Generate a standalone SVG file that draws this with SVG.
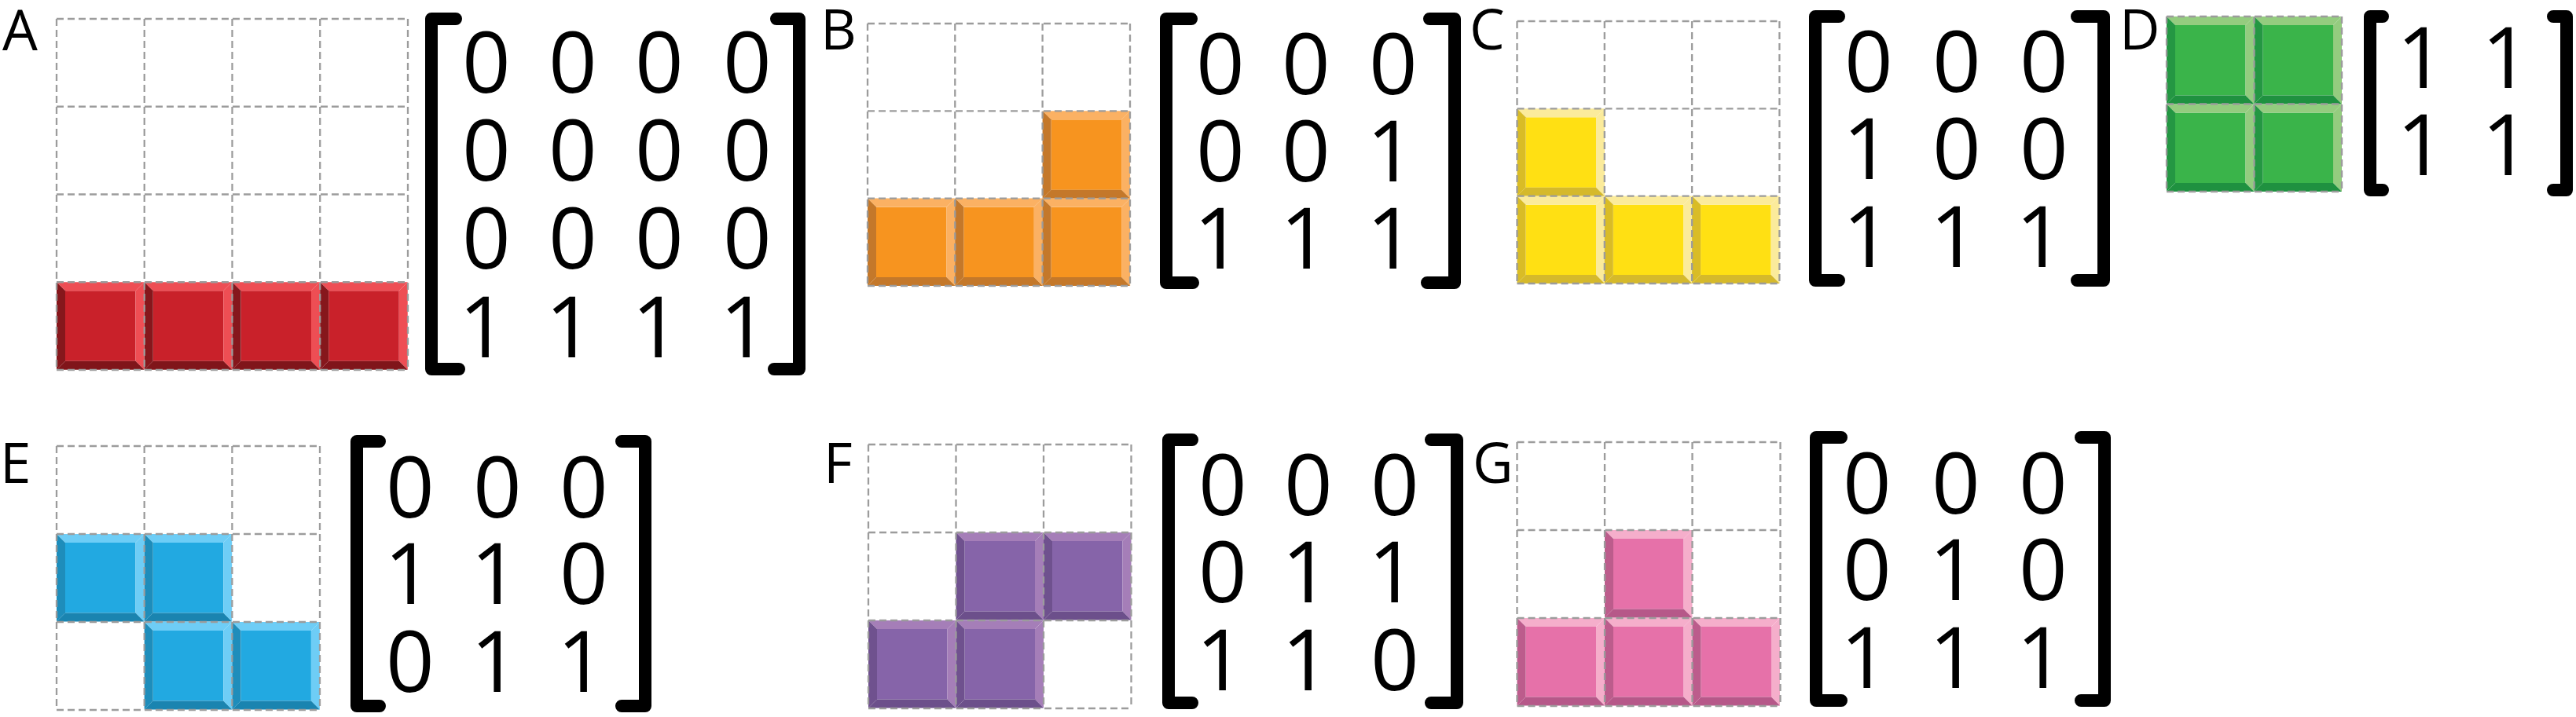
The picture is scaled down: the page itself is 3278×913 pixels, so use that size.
<svg xmlns="http://www.w3.org/2000/svg" xmlns:xlink="http://www.w3.org/1999/xlink" width="3278" height="913" viewBox="0 0 3278 913">
<style>
.lbl{font-family:"Open Sans","Noto Sans","Liberation Sans",sans-serif;font-size:71px;fill:#000}
.dg{font-family:"Open Sans","Noto Sans","Liberation Sans",sans-serif;font-size:108px;fill:#000;text-anchor:middle}
.br{fill:none;stroke:#000;stroke-width:16;stroke-linecap:round;stroke-linejoin:round}
.grid{fill:none;stroke:#9c9c9c;stroke-width:2.3;stroke-dasharray:9 5}
</style>
<defs>
<g id="tRed"><rect x="11" y="11" width="89.5" height="89.5" fill="#C9212A"/><polygon points="0,0 111.5,0 100.5,11 11,11" fill="#EE4E54"/><polygon points="111.5,0 111.5,111.5 100.5,100.5 100.5,11" fill="#EE4E54"/><polygon points="0,111.5 111.5,111.5 100.5,100.5 11,100.5" fill="#80151A"/><polygon points="0,0 11,11 11,100.5 0,111.5" fill="#86171C"/></g>
<g id="tOrange"><rect x="11" y="11" width="89.5" height="89.5" fill="#F7941F"/><polygon points="0,0 111.5,0 100.5,11 11,11" fill="#FBB163"/><polygon points="111.5,0 111.5,111.5 100.5,100.5 100.5,11" fill="#FBB163"/><polygon points="0,111.5 111.5,111.5 100.5,100.5 11,100.5" fill="#C4782A"/><polygon points="0,0 11,11 11,100.5 0,111.5" fill="#C4782A"/></g>
<g id="tYellow"><rect x="11" y="11" width="89.5" height="89.5" fill="#FFE013"/><polygon points="0,0 111.5,0 100.5,11 11,11" fill="#FBEB9B"/><polygon points="111.5,0 111.5,111.5 100.5,100.5 100.5,11" fill="#FBEB9B"/><polygon points="0,111.5 111.5,111.5 100.5,100.5 11,100.5" fill="#D5B92B"/><polygon points="0,0 11,11 11,100.5 0,111.5" fill="#D9BC26"/></g>
<g id="tGreen"><rect x="11" y="11" width="89.5" height="89.5" fill="#3AB44A"/><polygon points="0,0 111.5,0 100.5,11 11,11" fill="#94CC7F"/><polygon points="111.5,0 111.5,111.5 100.5,100.5 100.5,11" fill="#94CC7F"/><polygon points="0,111.5 111.5,111.5 100.5,100.5 11,100.5" fill="#1F9140"/><polygon points="0,0 11,11 11,100.5 0,111.5" fill="#249743"/></g>
<g id="tBlue"><rect x="11" y="11" width="89.5" height="89.5" fill="#22A9E1"/><polygon points="0,0 111.5,0 100.5,11 11,11" fill="#6ECDF6"/><polygon points="111.5,0 111.5,111.5 100.5,100.5 100.5,11" fill="#6ECDF6"/><polygon points="0,111.5 111.5,111.5 100.5,100.5 11,100.5" fill="#1A84B0"/><polygon points="0,0 11,11 11,100.5 0,111.5" fill="#1E8DBB"/></g>
<g id="tPurple"><rect x="11" y="11" width="89.5" height="89.5" fill="#8664A9"/><polygon points="0,0 111.5,0 100.5,11 11,11" fill="#A57EB8"/><polygon points="111.5,0 111.5,111.5 100.5,100.5 100.5,11" fill="#A57EB8"/><polygon points="0,111.5 111.5,111.5 100.5,100.5 11,100.5" fill="#6C4F8B"/><polygon points="0,0 11,11 11,100.5 0,111.5" fill="#6F518E"/></g>
<g id="tPink"><rect x="11" y="11" width="89.5" height="89.5" fill="#E671A9"/><polygon points="0,0 111.5,0 100.5,11 11,11" fill="#F5AECB"/><polygon points="111.5,0 111.5,111.5 100.5,100.5 100.5,11" fill="#F5AECB"/><polygon points="0,111.5 111.5,111.5 100.5,100.5 11,100.5" fill="#B65889"/><polygon points="0,0 11,11 11,100.5 0,111.5" fill="#BC5C8C"/></g>
</defs>
<rect width="3278" height="913" fill="#fff"/>

<g id="pieceA">
<text class="lbl" x="3" y="64">A</text>
<use xlink:href="#tRed" x="72" y="359.25"/><use xlink:href="#tRed" x="183.75" y="359.25"/><use xlink:href="#tRed" x="295.5" y="359.25"/><use xlink:href="#tRed" x="407.25" y="359.25"/>
<path class="grid" d="M72,24H519M72,135.75H519M72,247.5H519M72,359.25H519M72,471H519M72,24V471M183.75,24V471M295.5,24V471M407.25,24V471M519,24V471"/>
<path class="br" d="M580,24H549V470H584"/><path class="br" d="M988,24H1017V470H985"/>
<text class="dg" x="619" y="118">0</text><text class="dg" x="729" y="118">0</text><text class="dg" x="839" y="118">0</text><text class="dg" x="951" y="118">0</text>
<text class="dg" x="619" y="230">0</text><text class="dg" x="729" y="230">0</text><text class="dg" x="839" y="230">0</text><text class="dg" x="951" y="230">0</text>
<text class="dg" x="619" y="342">0</text><text class="dg" x="729" y="342">0</text><text class="dg" x="839" y="342">0</text><text class="dg" x="951" y="342">0</text>
<text class="dg" x="615" y="455">1</text><text class="dg" x="725" y="455">1</text><text class="dg" x="835" y="455">1</text><text class="dg" x="947" y="455">1</text>
</g>

<g id="pieceB">
<text class="lbl" x="1044" y="63">B</text>
<use xlink:href="#tOrange" x="1326.6" y="141.3"/>
<use xlink:href="#tOrange" x="1104" y="252.6"/><use xlink:href="#tOrange" x="1215.3" y="252.6"/><use xlink:href="#tOrange" x="1326.6" y="252.6"/>
<path class="grid" d="M1104,30H1438M1104,141.3H1438M1104,252.6H1438M1104,364H1438M1104,30V364M1215.3,30V364M1326.6,30V364M1438,30V364"/>
<path class="br" d="M1516,24H1484V360H1518"/><path class="br" d="M1819,24H1851V360H1816"/>
<text class="dg" x="1553" y="120">0</text><text class="dg" x="1662" y="120">0</text><text class="dg" x="1773" y="120">0</text>
<text class="dg" x="1553" y="231">0</text><text class="dg" x="1662" y="231">0</text><text class="dg" x="1770" y="231">1</text>
<text class="dg" x="1550" y="342">1</text><text class="dg" x="1660" y="342">1</text><text class="dg" x="1770" y="342">1</text>
</g>

<g id="pieceC">
<text class="lbl" x="1870" y="63">C</text>
<use xlink:href="#tYellow" x="1930.5" y="138.3"/>
<use xlink:href="#tYellow" x="1930.5" y="249.6"/><use xlink:href="#tYellow" x="2041.8" y="249.6"/><use xlink:href="#tYellow" x="2153.1" y="249.6"/>
<path class="grid" d="M1930.5,27H2264.4M1930.5,138.3H2264.4M1930.5,249.6H2264.4M1930.5,361H2264.4M1930.5,27V361M2041.8,27V361M2153.1,27V361M2264.4,27V361"/>
<path class="br" d="M2340,21H2310V357H2340"/><path class="br" d="M2643,21H2677V357H2643"/>
<text class="dg" x="2378" y="117">0</text><text class="dg" x="2490" y="117">0</text><text class="dg" x="2601" y="117">0</text>
<text class="dg" x="2376" y="228">1</text><text class="dg" x="2490" y="228">0</text><text class="dg" x="2601" y="228">0</text>
<text class="dg" x="2376" y="340">1</text><text class="dg" x="2487" y="340">1</text><text class="dg" x="2596" y="340">1</text>
</g>

<g id="pieceD">
<text class="lbl" x="2697" y="63">D</text>
<use xlink:href="#tGreen" x="2757" y="21"/><use xlink:href="#tGreen" x="2868.5" y="21"/>
<use xlink:href="#tGreen" x="2757" y="132.5"/><use xlink:href="#tGreen" x="2868.5" y="132.5"/>
<path class="grid" d="M2757,21H2980M2757,132.5H2980M2757,244H2980M2757,21V244M2868.5,21V244M2980,21V244"/>
<path class="br" d="M3032,21H3016V242H3032"/><path class="br" d="M3249,21H3266V242H3249"/>
<text class="dg" x="3081" y="112">1</text><text class="dg" x="3189" y="112">1</text>
<text class="dg" x="3081" y="223">1</text><text class="dg" x="3189" y="223">1</text>
</g>

<g id="pieceE">
<text class="lbl" x="0" y="615">E</text>
<use xlink:href="#tBlue" x="72" y="680"/><use xlink:href="#tBlue" x="183.7" y="680"/>
<use xlink:href="#tBlue" x="183.7" y="792"/><use xlink:href="#tBlue" x="295.4" y="792"/>
<path class="grid" d="M72,568H407M72,680H407M72,792H407M72,904H407M72,568V904M183.7,568V904M295.4,568V904M407,568V904"/>
<path class="br" d="M483,562H454V899H483"/><path class="br" d="M791,562H821V899H791"/>
<text class="dg" x="522" y="659">0</text><text class="dg" x="633" y="659">0</text><text class="dg" x="743" y="659">0</text>
<text class="dg" x="520" y="769">1</text><text class="dg" x="630" y="769">1</text><text class="dg" x="743" y="769">0</text>
<text class="dg" x="522" y="881">0</text><text class="dg" x="630" y="881">1</text><text class="dg" x="740" y="881">1</text>
</g>

<g id="pieceF">
<text class="lbl" x="1048" y="615">F</text>
<use xlink:href="#tPurple" x="1216.5" y="678"/><use xlink:href="#tPurple" x="1328" y="678"/>
<use xlink:href="#tPurple" x="1105" y="790"/><use xlink:href="#tPurple" x="1216.5" y="790"/>
<path class="grid" d="M1105,566H1439.5M1105,678H1439.5M1105,790H1439.5M1105,902H1439.5M1105,566V902M1216.5,566V902M1328,566V902M1439.5,566V902"/>
<path class="br" d="M1517,560H1487V895H1517"/><path class="br" d="M1821,560H1854V895H1821"/>
<text class="dg" x="1556" y="656">0</text><text class="dg" x="1665" y="656">0</text><text class="dg" x="1775" y="656">0</text>
<text class="dg" x="1556" y="767">0</text><text class="dg" x="1662" y="767">1</text><text class="dg" x="1772" y="767">1</text>
<text class="dg" x="1553" y="879">1</text><text class="dg" x="1662" y="879">1</text><text class="dg" x="1775" y="879">0</text>
</g>

<g id="pieceG">
<text class="lbl" x="1874" y="615">G</text>
<use xlink:href="#tPink" x="2042" y="675"/>
<use xlink:href="#tPink" x="1930.5" y="787"/><use xlink:href="#tPink" x="2042" y="787"/><use xlink:href="#tPink" x="2153.5" y="787"/>
<path class="grid" d="M1930.5,563H2265.5M1930.5,675H2265.5M1930.5,787H2265.5M1930.5,899H2265.5M1930.5,563V899M2042,563V899M2153.5,563V899M2265.5,563V899"/>
<path class="br" d="M2343,557H2311V892H2343"/><path class="br" d="M2648,557H2678V892H2648"/>
<text class="dg" x="2376" y="654">0</text><text class="dg" x="2489" y="654">0</text><text class="dg" x="2600" y="654">0</text>
<text class="dg" x="2376" y="764">0</text><text class="dg" x="2486" y="764">1</text><text class="dg" x="2600" y="764">0</text>
<text class="dg" x="2373" y="876">1</text><text class="dg" x="2486" y="876">1</text><text class="dg" x="2597" y="876">1</text>
</g>
</svg>
